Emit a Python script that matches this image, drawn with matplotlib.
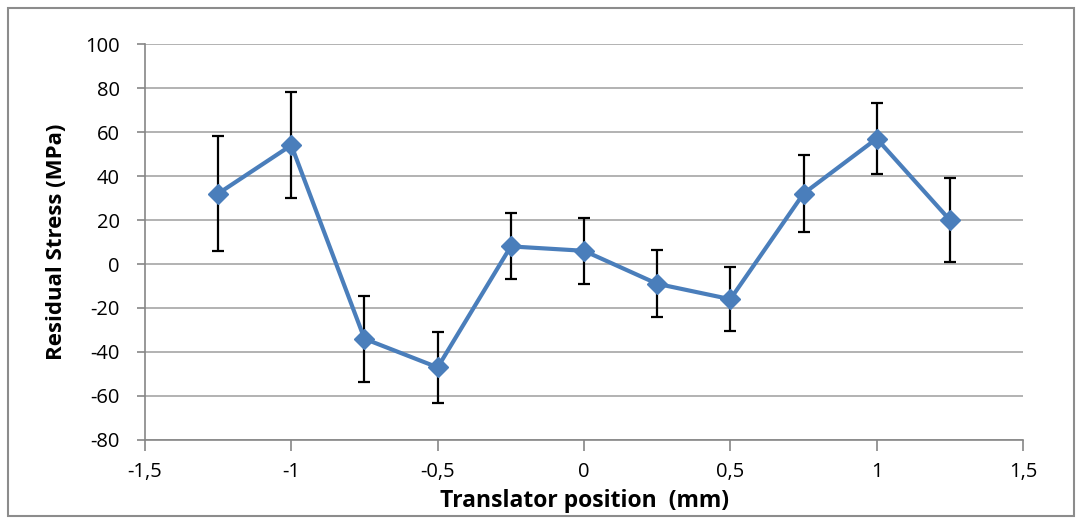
import matplotlib.pyplot as plt
from matplotlib.patches import Rectangle
from matplotlib.ticker import FuncFormatter

# data
position = [-1.25, -1.0, -0.75, -0.5, -0.25, 0.0, 0.25, 0.5, 0.75, 1.0, 1.25]
stress = [32, 54, -34, -47, 8, 6, -9, -16, 32, 57, 20]
err = [26, 24, 19.5, 16, 15, 15, 15.3, 14.6, 17.5, 16.3, 19]

plt.rcParams['font.family'] = ['Open Sans', 'DejaVu Sans']
plt.rcParams['axes.unicode_minus'] = False

fig = plt.figure(figsize=(10.77, 5.21), dpi=100)
ax = fig.add_axes([0.1346, 0.1555, 0.8153, 0.76])

# outer chart frame
fig.patches.append(Rectangle((8 / 1077, 5 / 521), 1066 / 1077, 508 / 521,
                             transform=fig.transFigure, fill=False,
                             edgecolor='#8c8c8c', linewidth=1.5))

ax.errorbar(position, stress, yerr=err, fmt='none', ecolor='black',
            elinewidth=1.6, capsize=4, capthick=1.6, zorder=2)
ax.plot(position, stress, color='#4a7ebb', linewidth=3, marker='D',
        markersize=10.5, zorder=3)

ax.set_xlim(-1.5, 1.5)
ax.set_ylim(-80, 100)
ax.set_xticks([-1.5, -1, -0.5, 0, 0.5, 1, 1.5])
ax.set_yticks(range(-80, 101, 20))
ax.xaxis.set_major_formatter(FuncFormatter(lambda v, p: ('%g' % v).replace('.', ',')))

ax.grid(axis='y', color='#a6a6a6', linewidth=1.2)
ax.set_axisbelow(True)
for s in ['top', 'right']:
    ax.spines[s].set_visible(False)
for s in ['left', 'bottom']:
    ax.spines[s].set_color('#868686')
    ax.spines[s].set_linewidth(1.2)

ax.tick_params(axis='x', length=8, width=1.2, color='#868686', pad=8, labelsize=14.5)
ax.tick_params(axis='y', length=6, width=1.2, color='#868686', pad=12, labelsize=14.5)

ax.set_xlabel('Translator position  (mm)', fontsize=16.5, fontweight='bold', labelpad=5)
ax.set_ylabel('Residual Stress (MPa)', fontsize=16, fontweight='bold', labelpad=13)

fig.savefig('out.png', dpi=100)
